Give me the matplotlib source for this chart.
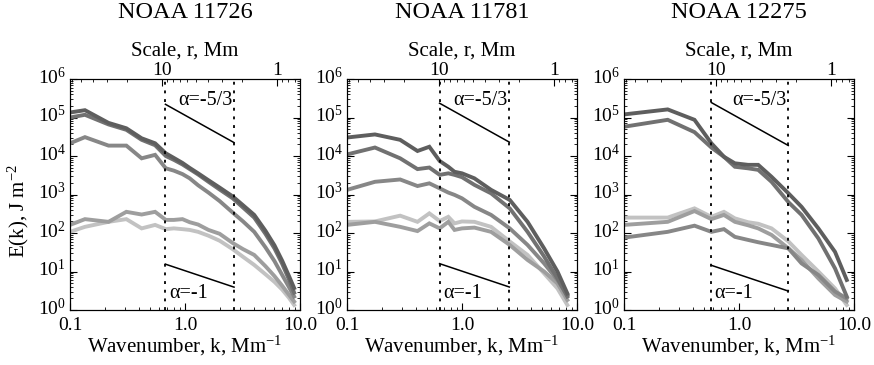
import numpy as np
import matplotlib
matplotlib.use("Agg")
import matplotlib.pyplot as plt
from matplotlib.ticker import FixedLocator, NullFormatter, LogLocator
from matplotlib.transforms import ScaledTranslation

plt.rcParams['font.family'] = ['Liberation Serif', 'DejaVu Serif']
plt.rcParams['mathtext.fontset'] = 'custom'
plt.rcParams['mathtext.rm'] = 'Liberation Serif'
plt.rcParams['mathtext.it'] = 'Liberation Serif:italic'
plt.rcParams['mathtext.bf'] = 'Liberation Serif:bold'

# -----------------------
# Data (log10 k, log10 E)
# -----------------------
titles = ["NOAA 11726", "NOAA 11781", "NOAA 12275"]

logk_1 = [-1.0, -0.87, -0.665, -0.51, -0.377, -0.26, -0.167, -0.097, -0.022, 0.041,
          0.114, 0.204, 0.301, 0.415, 0.505, 0.602, 0.699, 0.778, 0.845, 0.903, 0.949]
p1_a = [5.13, 5.19, 4.86, 4.72, 4.46, 4.33, 4.07, 3.95, 3.82, 3.69,
        3.55, 3.37, 3.18, 2.95, 2.72, 2.47, 2.06, 1.68, 1.28, 0.89, 0.57]
p1_b = [5.00, 5.07, 4.82, 4.68, 4.42, 4.28, 4.00, 3.90, 3.78, 3.66,
        3.52, 3.33, 3.13, 2.90, 2.66, 2.40, 1.98, 1.60, 1.20, 0.80, 0.45]
p1_c = [4.33, 4.49, 4.27, 4.27, 3.94, 4.03, 3.68, 3.62, 3.53, 3.42,
        3.24, 3.05, 2.83, 2.53, 2.30, 2.03, 1.63, 1.27, 0.91, 0.60, 0.35]
p1_d = [2.21, 2.36, 2.29, 2.55, 2.48, 2.55, 2.34, 2.34, 2.36, 2.28,
        2.22, 2.08, 1.98, 1.74, 1.58, 1.43, 1.14, 0.88, 0.63, 0.40, 0.22]
p1_e = [2.03, 2.16, 2.29, 2.36, 2.12, 2.21, 2.10, 2.12, 2.10, 2.08,
        2.03, 1.93, 1.80, 1.58, 1.38, 1.17, 0.93, 0.73, 0.53, 0.32, 0.13]

logk_2 = [-1.0, -0.757, -0.538, -0.387, -0.284, -0.194, -0.119, -0.065, 0.0,
          0.108, 0.253, 0.415, 0.57, 0.714, 0.83, 0.916]
p2_a = [4.48, 4.56, 4.42, 4.13, 4.24, 3.87, 3.72, 3.59, 3.55, 3.42, 3.12, 2.86, 2.29, 1.60, 1.00, 0.43]
p2_b = [4.04, 4.22, 3.94, 3.66, 3.70, 3.51, 3.55, 3.51, 3.45, 3.25, 3.03, 2.64, 2.03, 1.39, 0.82, 0.35]
p2_c = [3.12, 3.33, 3.39, 3.22, 3.29, 3.16, 3.05, 2.99, 2.90, 2.68, 2.47, 2.12, 1.69, 1.21, 0.78, 0.39]
p2_d = [2.21, 2.29, 2.16, 2.05, 2.25, 2.12, 2.29, 2.08, 2.12, 2.14, 2.03, 1.69, 1.30, 1.00, 0.69, 0.26]
p2_e = [2.29, 2.30, 2.45, 2.29, 2.51, 2.31, 2.42, 2.25, 2.30, 2.29, 2.16, 1.78, 1.43, 0.95, 0.56, 0.13]

logk_3 = [-1.0, -0.62, -0.387, -0.24, -0.131, -0.036, 0.079, 0.167, 0.283,
          0.43, 0.544, 0.69, 0.835, 0.937]
p3_a = [5.08, 5.21, 4.94, 4.33, 3.98, 3.81, 3.77, 3.77, 3.46, 3.03, 2.68, 2.12, 1.51, 0.78]
p3_b = [4.76, 4.94, 4.62, 4.22, 3.98, 3.72, 3.68, 3.64, 3.33, 2.80, 2.47, 1.86, 1.08, 0.35]
p3_c = [1.88, 2.03, 2.19, 2.03, 2.10, 1.90, 1.82, 1.76, 1.69, 1.60, 1.21, 0.91, 0.48, 0.30]
p3_d = [2.21, 2.29, 2.57, 2.36, 2.47, 2.29, 2.20, 2.12, 1.95, 1.60, 1.30, 0.82, 0.39, 0.22]
p3_e = [2.40, 2.40, 2.64, 2.42, 2.55, 2.38, 2.28, 2.24, 2.12, 1.78, 1.43, 1.00, 0.56, 0.13]

panels = [
    (logk_1, [p1_e, p1_d, p1_c, p1_b, p1_a]),
    (logk_2, [p2_e, p2_d, p2_c, p2_b, p2_a]),
    (logk_3, [p3_e, p3_d, p3_c, p3_b, p3_a]),
]
grays = ['#c2c2c2', '#9e9e9e', '#878787', '#717171', '#5e5e5e']

# inertial range bounds (k, Mm^-1) and power-law guide starts
k_low = [0.676, 0.638, 0.574]
k_high = [2.67, 2.58, 2.68]
steep_start = [2.2e5, 2.35e5, 2.45e5]
flat_start = [15.5, 16.0, 14.5]

# -----------------------
# Figure
# -----------------------
fig = plt.figure(figsize=(8.74, 3.65), dpi=100)
lefts = [70, 347, 624]
W, H = 874.0, 365.0
lift = ScaledTranslation(0, 4 / 100, fig.dpi_scale_trans)

for i in range(3):
    ax = fig.add_axes([lefts[i] / W, 55 / H, 230 / W, 231 / H])
    logk, curves = panels[i]
    k = 10 ** np.array(logk)
    for vals, c in zip(curves, grays):
        ax.plot(k, 10 ** np.array(vals), color=c, lw=2.8, solid_joinstyle='miter')

    ax.set_xscale('log')
    ax.set_yscale('log')
    ax.set_xlim(0.1, 10)
    ax.set_ylim(1, 1e6)

    for kv in (k_low[i], k_high[i]):
        ax.axvline(kv, color='black', lw=1.3, ls=(0, (1.6, 3.2)))

    kk = np.array([k_low[i], k_high[i]])
    ax.plot(kk, steep_start[i] * (kk / kk[0]) ** (-5 / 3), color='black', lw=1.1)
    ax.plot(kk, flat_start[i] * (kk / kk[0]) ** (-1), color='black', lw=1.1)
    ax.text(k_high[i] * 0.97, 10 ** 5.45, 'α=-5/3', ha='right', va='center', fontsize=14.5)
    ax.text(k_low[i] * 1.07, 10 ** 0.44, 'α=-1', ha='left', va='center', fontsize=14.5)

    ax.xaxis.set_major_locator(FixedLocator([0.1, 1.0, 10.0]))
    ax.set_xticklabels(['0.1', '1.0', '10.0'])
    ax.yaxis.set_major_locator(FixedLocator([1, 1e1, 1e2, 1e3, 1e4, 1e5, 1e6]))
    ax.yaxis.set_minor_locator(LogLocator(base=10, subs=np.arange(2, 10), numticks=20))
    ax.tick_params(which='both', direction='in', top=False, right=True, labelsize=14)
    ax.tick_params(which='major', length=5, width=0.8)
    ax.tick_params(which='minor', length=2.5, width=0.6)
    ax.tick_params(axis='x', pad=5)
    ax.tick_params(axis='y', pad=3)
    # nudge y labels up a little, as in the original
    for t in ax.yaxis.get_major_ticks():
        t.label1.set_transform(t.label1.get_transform() + lift)

    # top axis: scale r = 2*pi/k
    ax2 = ax.twiny()
    ax2.set_xscale('log')
    ax2.set_xlim(0.1, 10)
    ax2.xaxis.set_major_locator(FixedLocator([2 * np.pi / 10, 2 * np.pi / 1]))
    ax2.set_xticklabels(['10', '1'])
    r_minor = [0.7, 0.8, 0.9] + list(range(2, 10)) + [20, 30, 40, 50, 60]
    ax2.xaxis.set_minor_locator(FixedLocator([2 * np.pi / r for r in r_minor]))
    ax2.xaxis.set_minor_formatter(NullFormatter())
    ax2.tick_params(which='both', direction='in', labelsize=14, pad=0)
    ax2.tick_params(which='major', length=5, width=0.8)
    ax2.tick_params(which='minor', length=2.5, width=0.6)
    ax2.set_xlabel('Scale, r, Mm', fontsize=15, labelpad=5)

    ax.set_xlabel('Wavenumber, k, Mm$^{-1}$', fontsize=15, labelpad=0)
    if i == 0:
        ax.text(-0.225, 0.43, 'E(k), J m$^{-2}$', rotation=90, ha='center', va='center',
                fontsize=15, transform=ax.transAxes)

    fig.text((lefts[i] + 115) / W, 1 - 12 / H, titles[i], ha='center', va='center', fontsize=17.5)

plt.savefig("out.png", dpi=100)
plt.close()
